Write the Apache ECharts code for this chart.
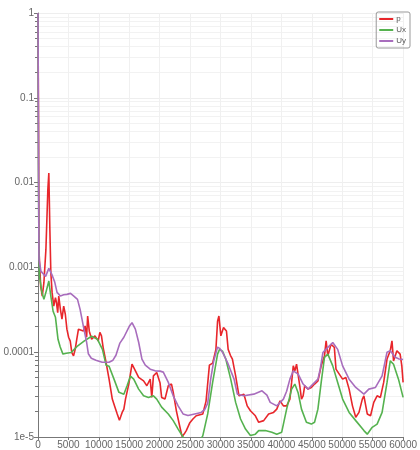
<!DOCTYPE html>
<html><head><meta charset="utf-8">
<script src="https://cdn.jsdelivr.net/npm/echarts@6/dist/echarts.min.js"></script>
<style>html,body{margin:0;padding:0;background:#fff}#c{width:420px;height:450px}</style>
</head><body><div id="c"></div>
<script>
const seriesNames = ['p', 'Ux', 'Uy'];
const pData = [[0,1],[80,0.055],[160,1.6e-3],[440,6.03e-4],[700,4.59e-4],[970,6.6e-4],[1300,1.63e-3],[1620,8.3e-3],[1780,0.013],[1950,2.8e-3],[2110,8.7e-4],[2320,5.04e-4],[2590,3.5e-4],[2870,4.4e-4],[3030,3.87e-4],[3240,2.93e-4],[3410,4.59e-4],[3680,3.2e-4],[3940,2.45e-4],[4220,3.5e-4],[4490,2.8e-4],[4750,1.87e-4],[5030,1.5e-4],[5300,1.35e-4],[5560,9.9e-5],[5840,9.04e-5],[6110,1.08e-4],[6370,1.42e-4],[6650,1.87e-4],[6920,1.95e-4],[7460,1.78e-4],[7740,2.04e-4],[7990,1.5e-4],[8160,2.67e-4],[8430,1.77e-4],[8810,1.42e-4],[9360,1.56e-4],[9890,1.36e-4],[10170,1.71e-4],[10430,1.56e-4],[10700,1.14e-4],[11140,7.9e-5],[11680,4.81e-5],[12210,2.8e-5],[12650,2.25e-5],[13020,1.87e-5],[13380,1.58e-5],[13570,1.72e-5],[13830,1.95e-5],[14110,2.13e-5],[14380,2.8e-5],[14920,4.21e-5],[15450,7.22e-5],[15730,7.22e-5],[16010,6.03e-5],[16540,5.04e-5],[16820,5.04e-5],[17350,4.59e-5],[17890,4.02e-5],[18440,4.81e-5],[18700,2.93e-5],[18970,5.26e-5],[19510,5.77e-5],[20060,4.32e-5],[20320,2.93e-5],[20870,2.8e-5],[21410,4.02e-5],[21940,4.21e-5],[22220,3.38e-5],[22750,2.02e-5],[23300,1.33e-5],[23680,1.01e-5],[24110,1.11e-5],[24370,1.19e-5],[24920,1.46e-5],[25460,1.63e-5],[26000,1.78e-5],[27080,1.87e-5],[27620,2.65e-5],[28170,7.03e-5],[28700,7.43e-5],[29240,1.08e-4],[29510,2.32e-4],[29730,2.67e-4],[30050,1.56e-4],[30490,1.95e-4],[30970,1.78e-4],[31250,1.08e-4],[31620,9.2e-5],[31950,8.3e-5],[32220,8.7e-5],[32480,5.26e-5],[33030,3.06e-5],[33840,3.2e-5],[34380,2.33e-5],[34910,2.04e-5],[35720,1.78e-5],[36270,1.49e-5],[37090,1.56e-5],[37900,1.87e-5],[38710,1.95e-5],[39240,2.13e-5],[39780,2.67e-5],[40330,2.33e-5],[40860,2.33e-5],[41400,2.8e-5],[41680,4.4e-5],[41950,6.9e-5],[42210,6.03e-5],[42490,7.22e-5],[42760,6.9e-5],[43020,4.02e-5],[43300,2.8e-5],[43570,3.06e-5],[43830,4.02e-5],[44380,3.67e-5],[44920,3.84e-5],[45450,4.21e-5],[46010,4.59e-5],[46540,6.9e-5],[47080,9.05e-5],[47350,1.36e-4],[47630,9.05e-5],[48160,1.24e-4],[48700,1.14e-4],[48970,6.31e-5],[49510,5.51e-5],[50060,4.81e-5],[50590,5.04e-5],[51130,3.67e-5],[51680,2.33e-5],[52220,1.71e-5],[52750,1.95e-5],[53300,2.8e-5],[53560,3.06e-5],[54110,1.87e-5],[54650,1.78e-5],[55180,2.56e-5],[55730,3.06e-5],[56270,2.93e-5],[56810,4.4e-5],[57360,8.3e-5],[57890,1.04e-4],[58170,1.36e-4],[58430,7.9e-5],[58980,1.04e-4],[59510,9.5e-5],[59790,6.9e-5],[60000,4.4e-5]];
const uxData = [[0,1],[80,0.01],[160,1.5e-3],[250,7.8e-4],[650,5.08e-4],[970,4.2e-4],[1300,5.08e-4],[1780,6.9e-4],[2110,4.59e-4],[2480,3.04e-4],[2870,2.58e-4],[3290,1.42e-4],[3650,1.15e-4],[4100,9.5e-5],[4650,9.73e-5],[5460,9.9e-5],[6110,1.11e-4],[6540,1.19e-4],[7620,1.36e-4],[8810,1.54e-4],[9780,1.42e-4],[10590,1.08e-4],[11190,7.03e-5],[11680,6.84e-5],[12490,4.81e-5],[13300,3.36e-5],[14110,3.2e-5],[14640,4.02e-5],[15190,5.22e-5],[15730,4.81e-5],[16540,3.67e-5],[17350,3.06e-5],[18160,2.93e-5],[18970,3.06e-5],[19510,2.8e-5],[20320,2.25e-5],[21410,1.87e-5],[22220,1.56e-5],[23030,1.24e-5],[23840,1.0e-5],[24650,7.5e-6],[25780,6.5e-6],[26760,9.5e-6],[27080,1.03e-5],[27890,1.87e-5],[28700,4.4e-5],[29510,9.5e-5],[29840,1.08e-4],[30320,1.03e-4],[30860,8.3e-5],[31670,4.81e-5],[32480,2.56e-5],[33290,1.63e-5],[34100,1.24e-5],[34910,1.04e-5],[35720,1.08e-5],[36270,1.19e-5],[37350,1.19e-5],[38430,1.14e-5],[39240,1.08e-5],[40050,1.14e-5],[40860,2.13e-5],[41680,3.67e-5],[42210,4.21e-5],[42760,3.3e-5],[43300,2.13e-5],[44110,1.49e-5],[44920,1.42e-5],[45450,1.49e-5],[46000,2.13e-5],[46540,4.4e-5],[47080,8.7e-5],[47630,9.5e-5],[48440,6.9e-5],[49250,4.4e-5],[50060,2.8e-5],[51130,1.95e-5],[52220,1.56e-5],[53560,1.19e-5],[54110,1.08e-5],[54920,1.3e-5],[55730,1.42e-5],[56550,1.95e-5],[57360,4.4e-5],[57890,7.9e-5],[58430,7.22e-5],[59240,4.81e-5],[60000,2.93e-5]];
const uyData = [[0,1],[100,0.0108],[160,1.24e-3],[490,8.97e-4],[1250,7.84e-4],[1780,9.73e-4],[2270,8.27e-4],[2760,6.67e-4],[3130,5.08e-4],[3680,4.59e-4],[4220,4.75e-4],[4750,4.81e-4],[5350,4.94e-4],[5840,4.62e-4],[6160,4.81e-4],[6490,4.2e-4],[6920,3.2e-4],[7460,2.02e-4],[7990,1.31e-4],[8270,9.6e-5],[8760,8.5e-5],[9520,8.05e-5],[10540,7.6e-5],[11680,7.6e-5],[12320,8.05e-5],[12810,9.2e-5],[13460,1.28e-4],[14110,1.5e-4],[15000,2.02e-4],[15450,2.23e-4],[16000,1.87e-4],[16540,1.31e-4],[17080,8.3e-5],[17630,7.03e-5],[18440,6.31e-5],[19250,6.03e-5],[20060,5.98e-5],[20590,5.82e-5],[21400,4.44e-5],[22220,3.06e-5],[23030,2.33e-5],[23840,1.87e-5],[24650,1.79e-5],[25740,1.87e-5],[26810,1.95e-5],[27410,2.11e-5],[27890,2.51e-5],[28380,4.81e-5],[28870,7.83e-5],[29270,1.0e-4],[29510,1.15e-4],[29840,1.11e-4],[30320,1.0e-4],[31130,7.6e-5],[32220,4.81e-5],[32760,3.2e-5],[33840,3.06e-5],[35460,3.2e-5],[36810,3.5e-5],[37620,3.12e-5],[38160,2.56e-5],[39240,2.33e-5],[40330,2.8e-5],[40860,3.47e-5],[41400,4.81e-5],[41950,6.03e-5],[42760,5.51e-5],[43570,4.21e-5],[44380,3.67e-5],[45190,4.21e-5],[46010,4.81e-5],[46380,6.31e-5],[46820,9.9e-5],[47630,1.14e-4],[48440,1.3e-4],[49250,1.08e-4],[50060,6.9e-5],[51130,4.81e-5],[52220,3.84e-5],[53560,3.2e-5],[54370,3.67e-5],[55460,3.84e-5],[56550,5.26e-5],[57360,1.0e-4],[57890,1.04e-4],[58700,8.7e-5],[59350,8.3e-5],[60000,8.2e-5]];
const colors = ['#e8262b', '#55b24f', '#a86dbd'];

const chart = echarts.init(document.getElementById('c'), null, {renderer: 'canvas'});
const labelStyle = {color: '#666', fontSize: 10, fontFamily: 'Liberation Sans, Arial, sans-serif'};
const lineSeries = (name, data, color) => ({
  name, type: 'line', data, symbol: 'none', smooth: false, clip: true,
  lineStyle: {color, width: 1.6}, itemStyle: {color}
});
chart.setOption({
  animation: false,
  grid: {left: 38, right: 12, top: 13, bottom: 12, containLabel: false},
  legend: {
    orient: 'vertical', right: 10, top: 12, itemGap: 3, itemWidth: 14, itemHeight: 2, icon: 'rect',
    padding: [3, 4, 3, 3], borderColor: '#999', borderWidth: 1, borderRadius: 2,
    textStyle: {color: '#555', fontSize: 8, padding: [0, 0, 0, -2]},
    data: seriesNames
  },
  xAxis: {
    type: 'value', min: 0, max: 60000, interval: 5000,
    axisLine: {show: true, lineStyle: {color: '#777'}},
    axisTick: {show: true, length: 3, lineStyle: {color: '#777'}},
    axisLabel: {...labelStyle, margin: 3, showMaxLabel: true, hideOverlap: false, formatter: v => String(v)},
    splitLine: {show: true, lineStyle: {color: '#f0f0f0'}}
  },
  yAxis: {
    type: 'log', logBase: 10, min: 1e-5, max: 1,
    axisLine: {show: true, lineStyle: {color: '#777'}},
    axisTick: {show: true, length: 4, lineStyle: {color: '#777'}},
    minorTick: {show: true, splitNumber: 9, length: 3, lineStyle: {color: '#777'}},
    minorSplitLine: {show: true, lineStyle: {color: '#f2f2f2'}},
    splitLine: {show: true, lineStyle: {color: '#eeeeee'}},
    axisLabel: {...labelStyle, margin: 4, formatter: v => (v < 1e-4 ? Number(v).toExponential() : String(v))}
  },
  series: [
    lineSeries(seriesNames[0], pData, colors[0]),
    lineSeries(seriesNames[1], uxData, colors[1]),
    lineSeries(seriesNames[2], uyData, colors[2])
  ]
});
</script></body></html>
